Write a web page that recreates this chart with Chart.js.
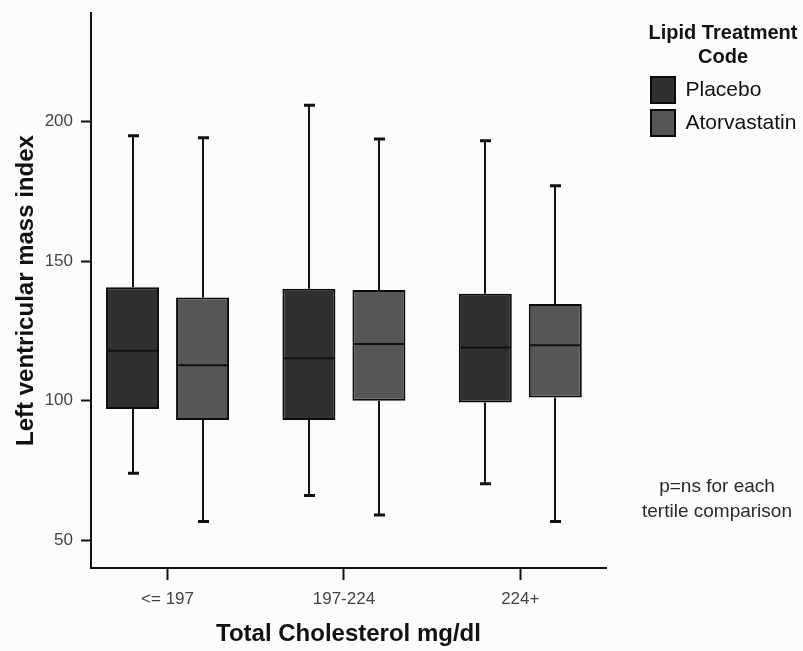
<!DOCTYPE html>
<html>
<head>
<meta charset="utf-8">
<script src="https://cdn.jsdelivr.net/npm/chart.js@4"></script>
<style>
  html, body { margin: 0; padding: 0; background: #fcfcfc; }
  #wrap { width: 803px; height: 651px; }
</style>
</head>
<body>
<div id="wrap"><canvas id="chart" width="803" height="651"></canvas></div>
<script>
// Cholesterol tertiles
const categories = ['<= 197', '197-224', '224+'];

// Placebo: whisker ends, quartiles and median
const placeboMin    = [74.0, 66.0, 70.2];
const placeboQ1     = [97.0, 93.1, 99.3];
const placeboMedian = [117.9, 115.2, 119.1];
const placeboQ3     = [140.7, 140.1, 138.3];
const placeboMax    = [195.0, 205.9, 193.2];

// Atorvastatin: whisker ends, quartiles and median
const atorvaMin    = [56.7, 59.0, 56.7];
const atorvaQ1     = [93.1, 100.0, 101.1];
const atorvaMedian = [112.7, 120.3, 119.9];
const atorvaQ3     = [137.0, 139.7, 134.7];
const atorvaMax    = [194.3, 193.8, 177.1];

const yTicks = [50, 100, 150, 200];

const FONT = "'Liberation Sans', Arial, Helvetica, sans-serif";

function boxData(q1, q3) {
  return categories.map((_, i) => ({ x: i, y: [q1[i], q3[i]] }));
}

// Whiskers, caps and median lines drawn on top of the quartile bars
const whiskerPlugin = {
  id: 'whiskers',
  afterDatasetsDraw(chart) {
    const ctx = chart.ctx;
    const y = chart.scales.y;
    chart.data.datasets.forEach((ds, d) => {
      const meta = chart.getDatasetMeta(d);
      meta.data.forEach((bar, i) => {
        const cx = Math.round(bar.x);
        const half = bar.width / 2;
        const pMin = y.getPixelForValue(ds.stats.min[i]);
        const pMax = y.getPixelForValue(ds.stats.max[i]);
        const pQ1 = y.getPixelForValue(ds.stats.q1[i]);
        const pQ3 = y.getPixelForValue(ds.stats.q3[i]);
        const pMed = y.getPixelForValue(ds.stats.median[i]);
        ctx.save();
        ctx.strokeStyle = '#111';
        ctx.lineWidth = 2;
        ctx.beginPath();
        ctx.moveTo(cx, pQ3); ctx.lineTo(cx, pMax);
        ctx.moveTo(cx, pQ1); ctx.lineTo(cx, pMin);
        ctx.stroke();
        ctx.lineWidth = 3;
        ctx.beginPath();
        ctx.moveTo(cx - 5, pMax); ctx.lineTo(cx + 6, pMax);
        ctx.moveTo(cx - 5, pMin); ctx.lineTo(cx + 6, pMin);
        ctx.stroke();
        ctx.lineWidth = 2;
        ctx.beginPath();
        ctx.moveTo(bar.x - half + 1, pMed); ctx.lineTo(bar.x + half - 1, pMed);
        ctx.stroke();
        ctx.restore();
      });
    });
  }
};

// Free-standing note to the right of the plot
const notePlugin = {
  id: 'note',
  afterDraw(chart) {
    const ctx = chart.ctx;
    ctx.save();
    ctx.fillStyle = '#2a2a2a';
    ctx.font = '19px ' + FONT;
    ctx.textAlign = 'center';
    ctx.textBaseline = 'middle';
    ctx.fillText('p=ns for each', 717, 487);
    ctx.fillText('tertile comparison', 717, 512);
    ctx.restore();
  }
};

new Chart(document.getElementById('chart'), {
  type: 'bar',
  data: {
    datasets: [
      {
        label: 'Placebo',
        data: boxData(placeboQ1, placeboQ3),
        backgroundColor: '#303030',
        borderColor: '#0a0a0a',
        borderWidth: 2,
        borderSkipped: false,
        stats: { min: placeboMin, q1: placeboQ1, median: placeboMedian, q3: placeboQ3, max: placeboMax }
      },
      {
        label: 'Atorvastatin',
        data: boxData(atorvaQ1, atorvaQ3),
        backgroundColor: '#565656',
        borderColor: '#0a0a0a',
        borderWidth: 2,
        borderSkipped: false,
        stats: { min: atorvaMin, q1: atorvaQ1, median: atorvaMedian, q3: atorvaQ3, max: atorvaMax }
      }
    ]
  },
  options: {
    responsive: false,
    animation: false,
    devicePixelRatio: 1,
    categoryPercentage: 0.794,
    barPercentage: 0.757,
    layout: { padding: { top: 13, right: 1, bottom: 0, left: 0 } },
    plugins: {
      tooltip: { enabled: false },
      legend: {
        position: 'right',
        align: 'start',
        maxWidth: 158,
        title: {
          display: true,
          text: ['Lipid Treatment', 'Code'],
          color: '#111',
          font: { family: FONT, size: 20, weight: 'bold', lineHeight: 1.2 },
          padding: { top: 10, bottom: 23 }
        },
        labels: {
          boxWidth: 24,
          boxHeight: 26,
          padding: 7,
          color: '#111',
          font: { family: FONT, size: 21 }
        }
      }
    },
    scales: {
      x: {
        type: 'linear',
        min: -0.434,
        max: 2.486,
        offset: false,
        afterBuildTicks(scale) {
          scale.ticks = categories.map((_, i) => ({ value: i }));
        },
        afterFit(scale) {
          scale.height = 83;
          scale.paddingLeft = 0;
          scale.paddingRight = 0;
        },
        ticks: {
          callback: (v) => categories[v],
          color: '#444',
          font: { family: FONT, size: 17 },
          padding: 9,
          maxRotation: 0
        },
        grid: {
          display: true,
          drawOnChartArea: false,
          drawTicks: true,
          tickLength: 12,
          tickColor: '#111',
          tickWidth: 2,
          offset: false
        },
        border: { display: true, color: '#111', width: 2 },
        title: {
          display: true,
          text: 'Total Cholesterol mg/dl',
          color: '#111',
          font: { family: FONT, size: 24, weight: 'bold', lineHeight: 1.2 },
          padding: { top: 0, bottom: 2 }
        }
      },
      y: {
        type: 'linear',
        min: 40,
        max: 239,
        afterBuildTicks(scale) {
          scale.ticks = yTicks.map((v) => ({ value: v }));
        },
        afterFit(scale) {
          scale.width = 91;
          scale.paddingTop = 0;
          scale.paddingBottom = 0;
        },
        ticks: {
          color: '#444',
          font: { family: FONT, size: 17 },
          padding: 8
        },
        grid: {
          display: true,
          drawOnChartArea: false,
          drawTicks: true,
          tickLength: 10,
          tickColor: '#111',
          tickWidth: 2
        },
        border: { display: true, color: '#111', width: 2 },
        title: {
          display: true,
          text: 'Left ventricular mass index',
          color: '#111',
          font: { family: FONT, size: 24, weight: 'bold', lineHeight: 1.2 },
          padding: { top: 12, bottom: 0 }
        }
      },
      // empty spacer between the plot and the legend
      gap: {
        type: 'linear',
        position: 'right',
        display: true,
        grid: { display: false },
        border: { display: false },
        ticks: { display: false },
        afterFit(scale) {
          scale.width = 38;
          scale.paddingTop = 0;
          scale.paddingBottom = 0;
        }
      }
    }
  },
  plugins: [whiskerPlugin, notePlugin]
});
</script>
</body>
</html>
